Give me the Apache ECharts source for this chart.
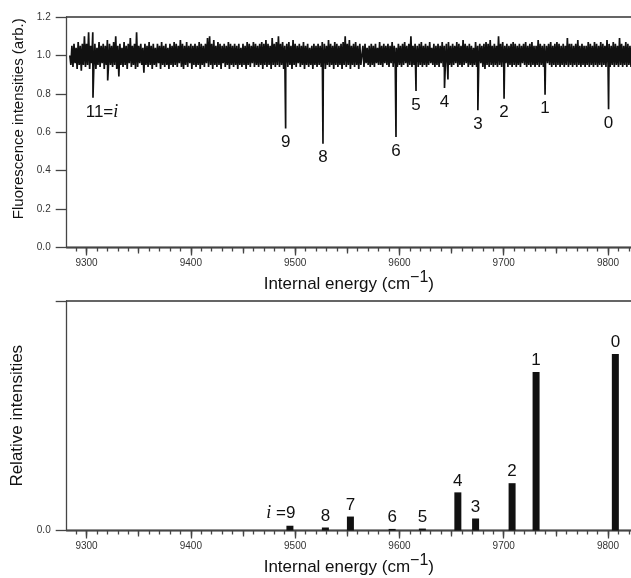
<!DOCTYPE html>
<html><head><meta charset="utf-8">
<script src="https://cdn.jsdelivr.net/npm/echarts@6/dist/echarts.min.js"></script>
<style>html,body{margin:0;padding:0;background:#fff}#c{width:631px;height:578px}</style>
</head><body><div id="c"></div>
<script>
// ---- data ----
const noiseStep = 1;        // sample spacing of the fluorescence trace (cm-1)
const noiseStartA = 9284;   // first segment: 9284 ... 9563
const noiseA = [
  1.00,0.95,1.05,0.94,1.06,0.96,1.04,0.93,1.07,0.95,1.05,0.92,1.06,0.95,1.10,0.94,1.06,0.95,1.12,0.93,
  1.05,0.96,1.12,0.94,1.06,0.93,1.04,0.95,1.07,0.94,1.05,0.96,1.06,0.93,1.05,0.95,1.08,0.94,1.06,0.95,
  1.05,0.94,1.07,0.95,1.10,0.93,1.05,0.89,1.06,0.95,1.04,0.94,1.07,0.95,1.05,0.93,1.06,0.96,1.09,0.94,
  1.05,0.95,1.06,0.93,1.12,0.94,1.05,0.96,1.06,0.95,1.04,0.91,1.06,0.95,1.05,0.94,1.07,0.95,1.05,0.93,
  1.06,0.95,1.04,0.94,1.06,0.96,1.05,0.93,1.07,0.95,1.05,0.94,1.06,0.95,1.04,0.93,1.06,0.95,1.05,0.94,
  1.07,0.95,1.06,0.94,1.05,0.96,1.08,0.94,1.06,0.93,1.05,0.95,1.07,0.94,1.05,0.96,1.06,0.93,1.05,0.95,
  1.06,0.94,1.05,0.95,1.07,0.93,1.06,0.95,1.05,0.94,1.06,0.96,1.09,0.94,1.10,0.95,1.06,0.93,1.08,0.95,
  1.05,0.94,1.07,0.95,1.06,0.93,1.05,0.96,1.06,0.94,1.05,0.95,1.07,0.93,1.06,0.95,1.05,0.94,1.06,0.95,
  1.05,0.93,1.06,0.95,1.04,0.94,1.06,0.95,1.05,0.93,1.07,0.95,1.06,0.94,1.05,0.96,1.07,0.94,1.06,0.95,
  1.05,0.94,1.06,0.95,1.07,0.93,1.06,0.95,1.08,0.94,1.06,0.95,1.05,0.93,1.09,0.95,1.06,0.94,1.07,0.95,
  1.10,0.94,1.06,0.95,1.07,0.93,1.05,0.95,1.06,0.94,1.07,0.95,1.05,0.93,1.08,0.95,1.06,0.94,1.05,0.96,
  1.06,0.94,1.05,0.95,1.07,0.93,1.05,0.95,1.06,0.94,1.04,0.95,1.05,0.93,1.06,0.95,1.05,0.94,1.06,0.95,
  1.05,0.94,1.07,0.95,1.06,0.93,1.05,0.95,1.08,0.94,1.06,0.95,1.05,0.93,1.07,0.95,1.06,0.94,1.05,0.95,
  1.06,0.93,1.07,0.95,1.10,0.94,1.06,0.95,1.08,0.93,1.05,0.95,1.06,0.94,1.07,0.95,1.05,0.93,1.06,0.95
];
const noiseStartB = 9564;   // second segment: 9564 ... 9843
const noiseB = [
  0.95,1.05,0.94,1.06,0.96,1.04,0.95,1.05,0.94,1.06,0.95,1.05,0.94,1.06,0.96,1.04,0.95,1.07,0.95,1.05,
  0.94,1.06,0.96,1.05,0.95,1.06,0.94,1.05,0.96,1.07,0.94,1.05,0.95,1.04,0.94,1.06,0.95,1.05,0.94,1.06,
  0.95,1.07,0.96,1.05,0.94,1.06,0.95,1.10,0.94,1.05,0.95,1.06,0.96,1.05,0.94,1.06,0.95,1.07,0.94,1.05,
  0.95,1.06,0.94,1.05,0.95,1.07,0.96,1.04,0.95,1.06,0.94,1.05,0.95,1.06,0.94,1.05,0.96,1.07,0.94,1.05,
  0.95,1.06,0.94,1.07,0.95,1.05,0.94,1.06,0.95,1.05,0.96,1.07,0.94,1.06,0.95,1.05,0.94,1.08,0.95,1.06,
  0.96,1.05,0.94,1.06,0.95,1.05,0.94,1.04,0.95,1.07,0.94,1.05,0.95,1.06,0.96,1.05,0.94,1.06,0.93,1.07,
  0.95,1.06,0.94,1.08,0.95,1.05,0.94,1.06,0.95,1.05,0.94,1.10,0.95,1.06,0.94,1.07,0.95,1.05,0.96,1.06,
  0.94,1.05,0.95,1.06,0.94,1.07,0.95,1.06,0.94,1.05,0.95,1.06,0.94,1.05,0.96,1.06,0.95,1.07,0.94,1.05,
  0.95,1.06,0.94,1.07,0.95,1.05,0.94,1.05,0.95,1.08,0.94,1.06,0.95,1.05,0.94,1.06,0.95,1.05,0.96,1.06,
  0.95,1.07,0.94,1.05,0.95,1.06,0.94,1.07,0.95,1.06,0.94,1.05,0.95,1.06,0.94,1.05,0.95,1.09,0.94,1.06,
  0.95,1.06,0.94,1.05,0.95,1.06,0.94,1.08,0.95,1.05,0.94,1.06,0.95,1.05,0.94,1.05,0.95,1.07,0.94,1.06,
  0.95,1.05,0.94,1.07,0.95,1.06,0.94,1.05,0.95,1.07,0.94,1.06,0.95,1.05,0.94,1.08,0.95,1.06,0.94,1.05,
  0.95,1.07,0.94,1.06,0.95,1.05,0.94,1.09,0.95,1.06,0.94,1.05,0.95,1.07,0.94,1.06,0.95,1.05,0.94,1.07,
  0.95,1.06,0.94,1.08,0.95,1.05,0.94,1.07,0.95,1.06,0.94,1.05,0.95,1.07,0.94,1.06,0.95,1.05,0.94,1.06
];
const dipEnergies = [9306.2, 9320.3, 9490.9, 9526.7, 9596.7, 9615.9, 9643.2, 9646.5, 9675.2, 9700.3, 9739.6, 9800.5];
const dipValues   = [0.78, 0.87, 0.62, 0.54, 0.575, 0.815, 0.83, 0.875, 0.715, 0.775, 0.795, 0.72];
const dipLabels   = ['11=i', '', '9', '8', '6', '5', '4', '', '3', '2', '1', '0'];

const barEnergies = [9495, 9529, 9553, 9593, 9622, 9656, 9673, 9708, 9731, 9807];
const barValues   = [0.027, 0.017, 0.079, 0.009, 0.011, 0.216, 0.068, 0.268, 0.898, 1.0];
const barLabels   = ['i =9', '8', '7', '6', '5', '4', '3', '2', '1', '0'];

const xTickLabels = [9300, 9400, 9500, 9600, 9700, 9800];
const yTickLabelsTop = [0, 0.2, 0.4, 0.6, 0.8, 1.0, 1.2];
const yTickLabelsBottom = [0];

// ---- build ----
const X_MIN = 9281, X_MAX = 9822;
const FONT = 'Liberation Sans';
const AX = '#454545';

const spectrum = [];
noiseA.forEach((v, i) => spectrum.push([noiseStartA + i * noiseStep, v]));
noiseB.forEach((v, i) => spectrum.push([noiseStartB + i * noiseStep, v]));
dipEnergies.forEach((x, i) => spectrum.push([x, dipValues[i]]));
spectrum.sort((a, b) => a[0] - b[0]);

const dipLabelData = [];
dipEnergies.forEach((x, i) => { if (dipLabels[i]) dipLabelData.push({ value: [x, dipValues[i]], name: dipLabels[i],
  label: dipLabels[i] === '11=i' ? { offset: [9, 0] } : {} }); });

const barData = barEnergies.map((x, i) => ({ value: [x, barValues[i]], name: barLabels[i],
  label: barLabels[i] === 'i =9' ? { offset: [-9, 0] } : {} }));

const tens = [], fifties = [];
for (let v = 9290; v <= 9820; v += 10) tens.push(v);
for (let v = 9300; v <= 9800; v += 50) fifties.push(v);

function richI(s) { return s.replace('i', '{it|i}'); }
const italicRich = { it: { fontFamily: 'Liberation Serif', fontStyle: 'italic', fontSize: 18, color: '#111' } };

const xName = '{n|Internal energy (cm}{s|\u22121}{n|)}';
const xNameStyle = { rich: {
  n: { fontSize: 17, fontFamily: FONT, color: '#111', lineHeight: 20, verticalAlign: 'bottom' },
  s: { fontSize: 16, fontFamily: FONT, color: '#111', lineHeight: 20, padding: [0, 0, 7, 0], verticalAlign: 'bottom' }
} };

function xAxesFor(g, gap) {
  const line = { show: true, onZero: false, lineStyle: { color: AX, width: 1.3 } };
  const common = { gridIndex: g, type: 'value', min: X_MIN, max: X_MAX, position: 'bottom',
    splitLine: { show: false }, axisLine: line };
  return [
    Object.assign({}, common, {
      axisTick: { show: true, customValues: xTickLabels, length: 8, lineStyle: { color: AX, width: 1.3 } },
      axisLabel: { show: true, customValues: xTickLabels, formatter: v => String(v), margin: 11, fontSize: 10, color: '#333', fontFamily: FONT },
      name: xName, nameLocation: 'middle', nameGap: gap, nameTextStyle: xNameStyle
    }),
    Object.assign({}, common, {
      axisTick: { show: true, customValues: fifties, length: 6, lineStyle: { color: AX, width: 1.3 } },
      axisLabel: { show: false }
    }),
    Object.assign({}, common, {
      axisTick: { show: true, customValues: tens, length: 4, lineStyle: { color: AX, width: 1.3 } },
      axisLabel: { show: false }
    }),
    Object.assign({}, common, { position: 'top', axisTick: { show: false }, axisLabel: { show: false },
      axisLine: { show: true, onZero: false, lineStyle: { color: '#333', width: 1.6 } } })
  ];
}

const chart = echarts.init(document.getElementById('c'), null, { renderer: 'canvas' });
chart.setOption({
  animation: false,
  backgroundColor: '#fff',
  grid: [
    { left: 66.7, top: 17, width: 564.3, height: 230.5, containLabel: false },
    { left: 66.7, top: 301, width: 564.3, height: 229.5, containLabel: false }
  ],
  xAxis: xAxesFor(0, 20).concat(xAxesFor(1, 21.5)),
  yAxis: [
    { gridIndex: 0, type: 'value', min: 0, max: 1.2, interval: 0.2,
      axisLine: { show: true, lineStyle: { color: AX, width: 1.3 } },
      axisTick: { show: true, length: 11, customValues: yTickLabelsTop, lineStyle: { color: AX, width: 1.3 } },
      axisLabel: { customValues: yTickLabelsTop, formatter: v => v.toFixed(1), margin: 16, fontSize: 10, color: '#333', fontFamily: FONT },
      splitLine: { show: false },
      name: 'Fluorescence intensities (arb.)', nameLocation: 'middle', nameGap: 38,
      nameTextStyle: { fontSize: 15, fontFamily: FONT, color: '#111', padding: [0, 0, 0, 27] } },
    { gridIndex: 1, type: 'value', min: 0, max: 1.3,
      axisLine: { show: true, lineStyle: { color: AX, width: 1.3 } },
      axisTick: { show: true, length: 11, customValues: [0, 1.3], lineStyle: { color: AX, width: 1.3 } },
      axisLabel: { customValues: yTickLabelsBottom, formatter: v => v.toFixed(1), margin: 16, fontSize: 10, color: '#333', fontFamily: FONT },
      splitLine: { show: false },
      name: 'Relative intensities', nameLocation: 'middle', nameGap: 22,
      nameTextStyle: { fontSize: 17, fontFamily: FONT, color: '#111' } }
  ],
  series: [
    { type: 'line', xAxisIndex: 0, yAxisIndex: 0, data: spectrum, showSymbol: false, symbol: 'none',
      lineStyle: { color: '#111', width: 1.7 }, clip: true, z: 3 },
    { type: 'scatter', xAxisIndex: 0, yAxisIndex: 0, data: dipLabelData, symbolSize: 1,
      itemStyle: { color: 'rgba(0,0,0,0)', opacity: 1 },
      label: { show: true, position: 'bottom', distance: 5, fontSize: 17, fontFamily: FONT, color: '#111', opacity: 1,
        formatter: p => richI(p.name), rich: italicRich }, z: 4 },
    { type: 'bar', xAxisIndex: 4, yAxisIndex: 1, data: barData, barWidth: 7,
      itemStyle: { color: '#111' },
      label: { show: true, position: 'top', distance: 3, fontSize: 17, fontFamily: FONT, color: '#111',
        formatter: p => richI(p.name), rich: italicRich } }
  ]
});
</script></body></html>
